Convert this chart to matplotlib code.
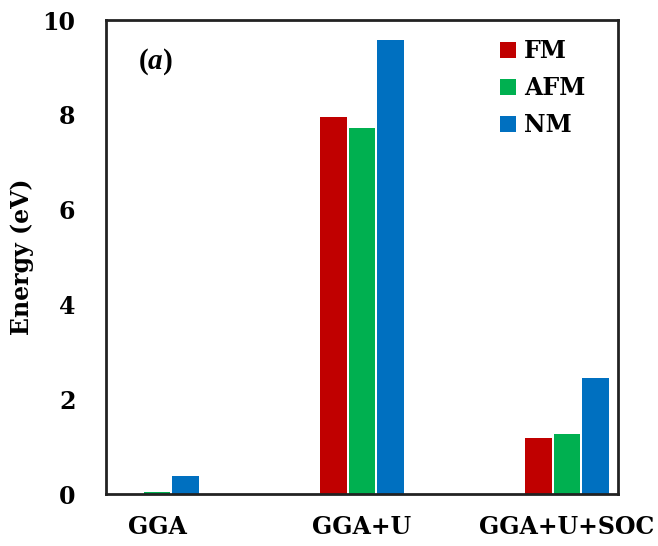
import matplotlib
matplotlib.use("Agg")
import matplotlib.pyplot as plt
import numpy as np

categories = ["GGA", "GGA+U", "GGA+U+SOC"]
series_names = ["FM", "AFM", "NM"]
fm_values = [0.0, 7.95, 1.19]
afm_values = [0.05, 7.72, 1.26]
nm_values = [0.38, 9.58, 2.45]
y_ticks = [0, 2, 4, 6, 8, 10]

colors = ["#C00000", "#00B050", "#0070C0"]

plt.rcParams["font.family"] = ["DejaVu Serif"]
plt.rcParams["mathtext.fontset"] = "custom"
plt.rcParams["mathtext.rm"] = "Liberation Serif"
plt.rcParams["mathtext.bf"] = "Liberation Serif:bold"
plt.rcParams["mathtext.it"] = "Liberation Serif:italic:bold"
plt.rcParams["mathtext.bfit"] = "Liberation Serif:italic:bold"

fig = plt.figure(figsize=(6.58, 5.46), dpi=100)
ax = fig.add_axes([0.1611, 0.0952, 0.7781, 0.8681])

x = np.arange(len(categories))
width = 0.131
offsets = [-0.1375, 0.0, 0.1375]
for vals, name, col, off in zip([fm_values, afm_values, nm_values], series_names, colors, offsets):
    ax.bar(x + off, vals, width, color=col, label=name, linewidth=0)

ax.set_xlim(-0.249, 2.249)
ax.set_ylim(0, 10)
ax.set_yticks(y_ticks)
ax.set_xticks(x)
ax.set_xticklabels(categories, fontsize=17, fontweight="bold")
ax.set_yticklabels([str(t) for t in y_ticks], fontsize=17, fontweight="bold")
ax.tick_params(axis="y", length=0, pad=22)
ax.tick_params(axis="x", length=0, pad=15)
ax.set_ylabel("Energy (eV)", fontsize=17, fontweight="bold", labelpad=6)

for s in ax.spines.values():
    s.set_linewidth(2)
    s.set_color("#222222")

ax.text(0.062, 0.913, r"$\mathbf{(}\boldsymbol{a}\mathbf{)}$", transform=ax.transAxes,
        fontsize=21, va="center", ha="left")

leg = ax.legend(loc="upper right", bbox_to_anchor=(0.978, 1.004), frameon=False,
                prop={"size": 17, "weight": "bold"}, handlelength=0.65, handleheight=0.65,
                handletextpad=0.35, labelspacing=0.55)

fig.savefig("out.png", dpi=100)
